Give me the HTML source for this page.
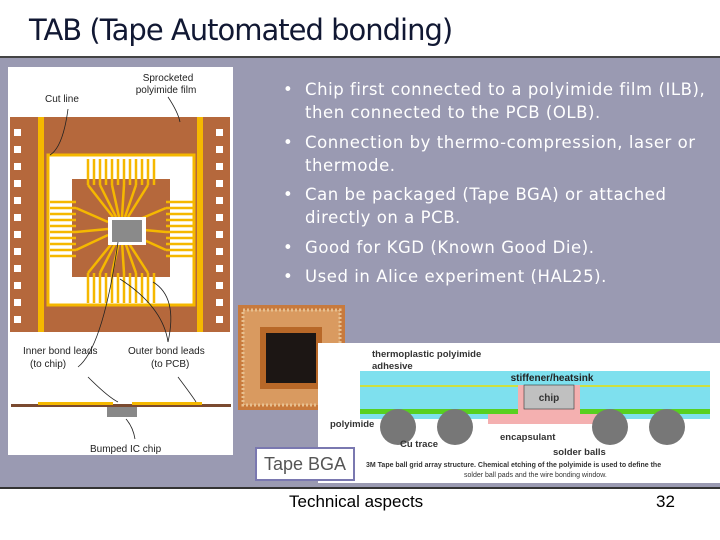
<!DOCTYPE html>
<html><head><meta charset="utf-8"><style>
body{margin:0;width:720px;height:540px;position:relative;background:#fff;overflow:hidden;font-family:"Liberation Sans",sans-serif}
.a{position:absolute}
.title{left:29px;top:13px;font-size:29px;color:#111833;font-family:"DejaVu Sans","Liberation Sans",sans-serif;letter-spacing:-1px}
.band{left:0;top:56px;width:720px;height:429px;background:#9a9ab2;border-top:2px solid #444;border-bottom:2px solid #333}
ul{position:absolute;left:283px;top:78px;margin:0;padding:0;list-style:none;color:#fff;font-size:16.5px;line-height:23px;width:437px;font-family:"DejaVu Sans","Liberation Sans",sans-serif;letter-spacing:0.55px;white-space:nowrap}
li{position:relative;padding-left:22px;margin-bottom:6.5px}
li:before{content:"•";position:absolute;left:0}
</style></head><body>
<div class="a title">TAB (Tape Automated bonding)</div>
<div class="a band"></div>
<ul>
<li>Chip first connected to a polyimide film (ILB),<br>then connected to the PCB (OLB).</li>
<li>Connection by thermo-compression, laser or<br>thermode.</li>
<li>Can be packaged (Tape BGA) or attached<br>directly on a PCB.</li>
<li>Good for KGD (Known Good Die).</li>
<li>Used in Alice experiment (HAL25).</li>
</ul>
<svg class="a" style="left:8px;top:67px" width="225" height="388" viewBox="0 0 225 388">
<rect width="225" height="388" fill="#fff"/>
<text x="37" y="35" font-size="10" fill="#222">Cut line</text>
<text x="160" y="14" font-size="10" fill="#222" text-anchor="middle">Sprocketed</text>
<text x="158" y="26" font-size="10" fill="#222" text-anchor="middle">polyimide film</text>
<rect x="2" y="50" width="220" height="215" fill="#b5683c"/>
<rect x="30" y="50" width="6" height="215" fill="#f5b800"/>
<rect x="189" y="50" width="6" height="215" fill="#f5b800"/>
<g fill="#fff">
<rect x="6" y="62" width="7" height="7"/><rect x="6" y="79" width="7" height="7"/><rect x="6" y="96" width="7" height="7"/><rect x="6" y="113" width="7" height="7"/><rect x="6" y="130" width="7" height="7"/><rect x="6" y="147" width="7" height="7"/><rect x="6" y="164" width="7" height="7"/><rect x="6" y="181" width="7" height="7"/><rect x="6" y="198" width="7" height="7"/><rect x="6" y="215" width="7" height="7"/><rect x="6" y="232" width="7" height="7"/><rect x="6" y="249" width="7" height="7"/>
<rect x="208" y="62" width="7" height="7"/><rect x="208" y="79" width="7" height="7"/><rect x="208" y="96" width="7" height="7"/><rect x="208" y="113" width="7" height="7"/><rect x="208" y="130" width="7" height="7"/><rect x="208" y="147" width="7" height="7"/><rect x="208" y="164" width="7" height="7"/><rect x="208" y="181" width="7" height="7"/><rect x="208" y="198" width="7" height="7"/><rect x="208" y="215" width="7" height="7"/><rect x="208" y="232" width="7" height="7"/><rect x="208" y="249" width="7" height="7"/>
<rect x="40" y="88" width="146" height="150" stroke="#f5b800" stroke-width="3"/>
</g>
<rect x="64" y="112" width="98" height="98" fill="#b5683c"/>
<g stroke="#f5b800" stroke-width="2.5">
<path d="M80 92V118M86 92V118M92 92V118M98 92V118M104 92V118M110 92V118M116 92V118M122 92V118M128 92V118M134 92V118M140 92V118M146 92V118"/>
<path d="M80 206V236M86 206V236M92 206V236M98 206V236M104 206V236M110 206V236M116 206V236M122 206V236M128 206V236M134 206V236M140 206V236M146 206V236"/>
<path d="M42 135H68M42 141H68M42 147H68M42 153H68M42 159H68M42 165H68M42 171H68M42 177H68M42 183H68M42 189H68"/>
<path d="M158 135H185M158 141H185M158 147H185M158 153H185M158 159H185M158 165H185M158 171H185M158 177H185M158 183H185M158 189H185"/>
<path d="M80 118L105 150M92 118L108 150M104 118L111 150M116 118L114 150M128 118L117 150M140 118L120 150M80 206L105 175M92 206L108 175M104 206L111 175M116 206L114 175M128 206L117 175M140 206L120 175M68 141L100 155M68 165L100 162M68 183L100 168M158 141L125 155M158 165L125 162M158 183L125 168"/>
</g>
<rect x="100" y="150" width="38" height="28" fill="#fff"/>
<rect x="104" y="153" width="30" height="22" fill="#8a8a8a"/>
<text x="15" y="287" font-size="10" fill="#222">Inner bond leads</text>
<text x="22" y="300" font-size="10" fill="#222">(to chip)</text>
<text x="120" y="287" font-size="10" fill="#222">Outer bond leads</text>
<text x="143" y="300" font-size="10" fill="#222">(to PCB)</text>
<rect x="3" y="337" width="220" height="3" fill="#7a4a30"/>
<rect x="30" y="335" width="75" height="3" fill="#f5b800"/><rect x="124" y="335" width="70" height="3" fill="#f5b800"/>
<rect x="99" y="340" width="30" height="10" fill="#888"/>
<text x="82" y="385" font-size="10" fill="#222">Bumped IC chip</text>
<g stroke="#222" fill="none" stroke-width="0.8"><path d="M60 42Q55 80 42 88"/><path d="M160 30Q170 45 172 55"/><path d="M70 300Q95 280 110 175"/><path d="M160 275Q170 230 145 215"/><path d="M160 275Q155 240 112 212"/><path d="M80 310Q100 330 110 335"/><path d="M170 310Q185 330 188 335"/><path d="M127 372Q125 360 118 352"/></g>
</svg>
<svg class="a" style="left:238px;top:305px" width="107" height="105"><rect width="107" height="105" fill="#c87a3c"/><rect x="5" y="5" width="97" height="95" fill="#d99a60" stroke="#e8c090" stroke-dasharray="2 2" stroke-width="3"/><rect x="22" y="22" width="62" height="62" fill="#b86828"/><rect x="28" y="28" width="50" height="50" fill="#1c1614"/></svg>
<svg class="a" style="left:318px;top:343px" width="402" height="140" viewBox="0 0 402 140">
<rect width="402" height="140" fill="#fff"/>
<text x="54" y="14" font-size="9.5" font-weight="bold" fill="#333">thermoplastic polyimide</text>
<text x="54" y="26" font-size="9.5" font-weight="bold" fill="#333">adhesive</text>
<rect x="42" y="28" width="350" height="48" fill="#7ee0ee"/>
<rect x="42" y="42" width="350" height="2" fill="#cde040"/>
<rect x="42" y="66" width="350" height="5" fill="#58d020"/>
<rect x="200" y="42" width="62" height="36" fill="#f4b0b0"/>
<rect x="206" y="42" width="50" height="24" fill="#c0c0c0" stroke="#333" stroke-width="0.6"/>
<text x="231" y="58" font-size="10" font-weight="bold" text-anchor="middle" fill="#333">chip</text>
<text x="234" y="38" font-size="10" font-weight="bold" text-anchor="middle" fill="#222">stiffener/heatsink</text>
<rect x="170" y="71" width="120" height="10" fill="#f4b0b0"/>
<g fill="#777"><circle cx="80" cy="84" r="18"/><circle cx="137" cy="84" r="18"/><circle cx="292" cy="84" r="18"/><circle cx="349" cy="84" r="18"/></g>
<text x="12" y="84" font-size="9.5" font-weight="bold" fill="#333">polyimide</text>
<text x="82" y="104" font-size="9.5" font-weight="bold" fill="#333">Cu trace</text>
<text x="182" y="97" font-size="9.5" font-weight="bold" fill="#333">encapsulant</text>
<text x="235" y="112" font-size="9.5" font-weight="bold" fill="#333">solder balls</text>
<text x="48" y="124" font-size="7" font-weight="bold" fill="#333">3M Tape ball grid array structure.  Chemical etching of the polyimide is used to define the</text>
<text x="146" y="134" font-size="7" fill="#333">solder ball pads and the wire bonding window.</text>
</svg>
<div class="a" style="left:255px;top:447px;width:96px;height:30px;background:#fff;border:2px solid #7a78b0;color:#555;font-size:18px;line-height:30px;text-align:center">Tape BGA</div>
<div class="a" style="left:289px;top:492px;font-size:17px;color:#000">Technical aspects</div>
<div class="a" style="left:656px;top:492px;font-size:17px;color:#000">32</div>
</body></html>
